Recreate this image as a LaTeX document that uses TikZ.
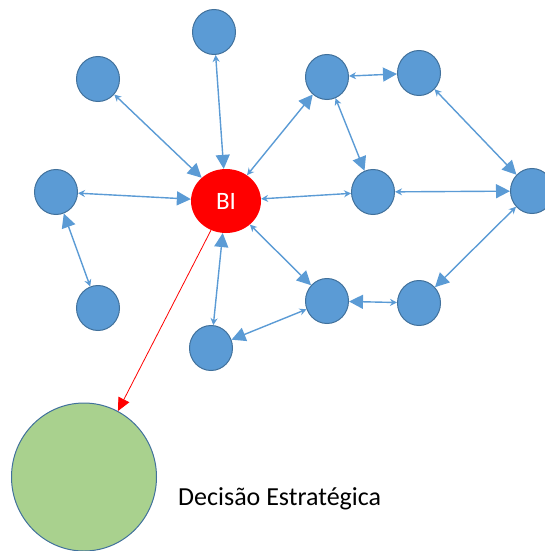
\documentclass[tikz,border=0pt]{standalone}
\usepackage{fontspec}
\setmainfont{Carlito}
\usetikzlibrary{shapes.geometric,arrows.meta}
\definecolor{nodeblue}{HTML}{5B9BD5}
\definecolor{rimblue}{HTML}{41719C}
\definecolor{decgreen}{HTML}{A9D18E}

\begin{document}
\begin{tikzpicture}
  [x=1pt,y=-1pt,
   blob/.style={ellipse,draw=rimblue,fill=nodeblue,line width=1pt,inner sep=0pt,
     minimum width=43pt,minimum height=45pt},
   link/.style={draw=nodeblue,line width=1.4pt,
     {Stealth[length=7pt,width=7pt]}-{Triangle[length=14pt,width=14pt]}},
   bothsmall/.style={draw=nodeblue,line width=1.4pt,
     {Stealth[length=7pt,width=7pt]}-{Stealth[length=7pt,width=7pt]}}]
  \useasboundingbox (0,0) rectangle (545,551);

  \node[ellipse,fill=red,inner sep=0pt,minimum width=70pt,minimum height=64pt,
    text=white,font=\fontsize{25}{30}\selectfont] (bi) at (226,201) {BI};
  \node[blob] (n1) at (214,32) {};
  \node[blob] (n2) at (98,79) {};
  \node[blob] (n3) at (56,192) {};
  \node[blob] (n4) at (98,308) {};
  \node[blob] (n5) at (211,348) {};
  \node[blob] (n6) at (327,77) {};
  \node[blob] (n7) at (419,73) {};
  \node[blob] (n8) at (373,192) {};
  \node[blob] (n9) at (532,191) {};
  \node[blob] (n10) at (327,301) {};
  \node[blob] (n11) at (419,303) {};
  \node[ellipse,draw=rimblue,fill=decgreen,line width=1pt,inner sep=0pt,
    minimum width=145pt,minimum height=148pt] (dec) at (84,477) {};
  \node[anchor=base west,inner sep=0pt,font=\fontsize{26}{30}\selectfont]
    (declabel) at (178,505) {Decisão Estratégica};

  \foreach \from/\to in {n1/bi,n2/bi,n3/bi,bi/n6,n6/n7,n6/n8,n7/n9,n8/n9,
  n9/n11,n11/n10,bi/n10,n5/bi,n10/n5,n4/n3}
    \draw[link] (\from) -- (\to);
  \draw[bothsmall] (bi) -- (n8);

  \draw[red,line width=0.8pt,-{Triangle[length=13pt,width=12pt]}] (bi) -- (dec);

\end{tikzpicture}
\end{document}
